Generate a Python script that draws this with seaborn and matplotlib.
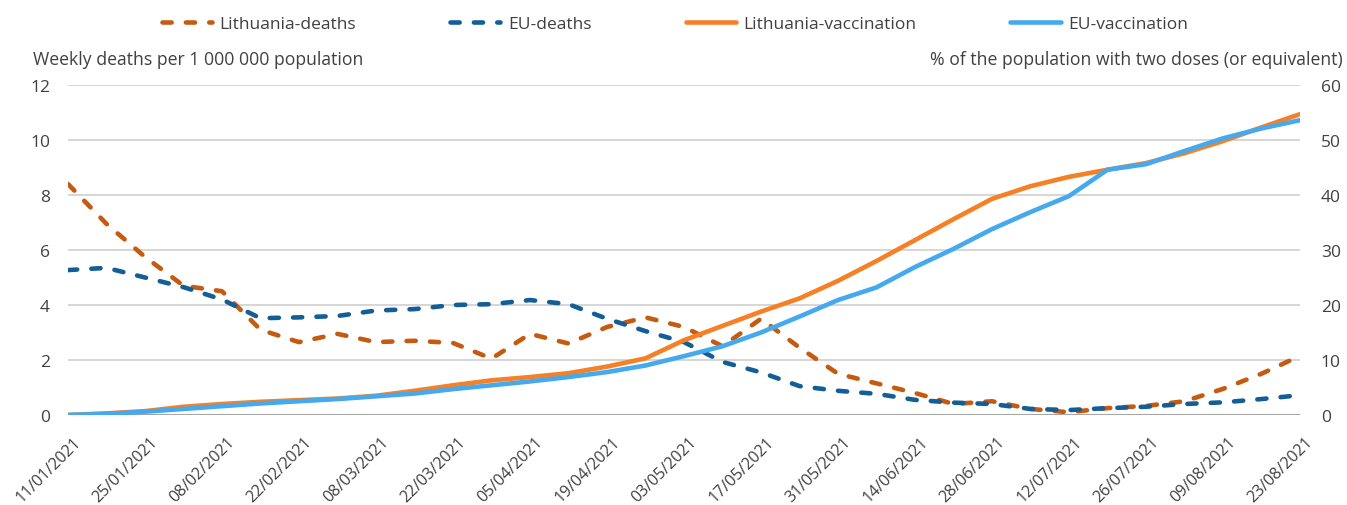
import matplotlib
matplotlib.use("Agg")
import matplotlib.pyplot as plt
import matplotlib.transforms as mtransforms
import matplotlib.dates as mdates
import numpy as np
import pandas as pd
import seaborn as sns

# -----------------------
# Data
# -----------------------
weeks = pd.date_range("2021-01-11", "2021-08-23", freq="7D")

lt_deaths = [8.4, 6.95, 5.75, 4.7, 4.5, 3.1, 2.65, 2.95, 2.65, 2.7, 2.62,
             2.05, 2.95, 2.6, 3.2, 3.55, 3.2, 2.5, 3.5, 2.45, 1.5, 1.15,
             0.8, 0.4, 0.5, 0.22, 0.1, 0.25, 0.33, 0.5, 0.95, 1.5, 2.15]
eu_deaths = [5.27, 5.35, 5.0, 4.65, 4.2, 3.52, 3.55, 3.6, 3.8, 3.85, 4.0,
             4.03, 4.18, 4.03, 3.5, 3.05, 2.65, 1.93, 1.55, 1.05, 0.88, 0.77,
             0.55, 0.45, 0.4, 0.22, 0.18, 0.25, 0.3, 0.4, 0.46, 0.58, 0.72]
lt_vacc = [0, 0.3, 0.7, 1.5, 2.0, 2.4, 2.7, 3.0, 3.5, 4.4, 5.4, 6.3, 6.9,
           7.6, 8.8, 10.3, 13.6, 16.2, 18.8, 21.2, 24.4, 28.0, 31.8, 35.6,
           39.3, 41.6, 43.3, 44.6, 45.8, 47.6, 49.8, 52.3, 54.7]
eu_vacc = [0, 0.2, 0.6, 1.1, 1.6, 2.1, 2.5, 2.9, 3.4, 3.9, 4.7, 5.4, 6.1,
           6.9, 7.8, 9.0, 10.7, 12.5, 15.0, 17.9, 20.9, 23.2, 26.9, 30.2,
           33.8, 36.9, 39.8, 44.6, 45.6, 48.0, 50.3, 52.1, 53.6]

labels = ["Lithuania-deaths", "EU-deaths", "Lithuania-vaccination", "EU-vaccination"]
colors = ["#C55A11", "#135E96", "#F58026", "#45A9EE"]

df = pd.DataFrame({"week": weeks, labels[0]: lt_deaths, labels[1]: eu_deaths,
                   labels[2]: lt_vacc, labels[3]: eu_vacc})

# -----------------------
# Style
# -----------------------
sns.set_style("white")
plt.rcParams["font.family"] = ["Open Sans", "DejaVu Sans"]
text_col = "#404040"

W, H = 1347, 506
fig = plt.figure(figsize=(W / 100, H / 100), dpi=100)
ax = fig.add_axes([68 / W, 1 - 416 / H, (1300 - 68) / W, 330 / H])
ax2 = ax.twinx()

# deaths on the left axis (dashed)
for name, col in zip(labels[:2], colors[:2]):
    sns.lineplot(data=df, x="week", y=name, ax=ax, color=col, lw=3.3, label=name)
for ln in ax.lines:
    ln.set_dashes((2.0, 3.1))
    ln.set_dash_capstyle("round")

# vaccination on the right axis (solid)
for name, col in zip(labels[2:], colors[2:]):
    sns.lineplot(data=df, x="week", y=name, ax=ax2, color=col, lw=3.3, label=name)

for a in (ax, ax2):
    if a.get_legend():
        a.get_legend().remove()
    a.set_xlabel("")
    a.set_ylabel("")
    for s in a.spines.values():
        s.set_visible(False)

ax.set_xlim(weeks[0], weeks[-1])
ax.set_ylim(0, 12)
ax.set_yticks(np.arange(0, 13, 2))
ax2.set_ylim(0, 60)
ax2.set_yticks(np.arange(0, 61, 10))

ax.grid(axis="y", color="#D0D0D0", lw=1.2)
ax.grid(axis="x", visible=False)
ax2.grid(False)
ax.axhline(0, color="#A6A6A6", lw=1.5, zorder=1)

ax.set_xticks(weeks[::2])
ax.xaxis.set_major_formatter(mdates.DateFormatter("%d/%m/%Y"))
ax.tick_params(axis="x", length=0, pad=13.5, labelsize=11.6, labelcolor=text_col)
ax.tick_params(axis="y", length=0, pad=13, labelsize=12.5, labelcolor=text_col)
ax2.tick_params(axis="y", length=0, pad=15, labelsize=12.5, labelcolor=text_col)
shift = mtransforms.ScaledTranslation(5 / 100, 0, fig.dpi_scale_trans)
for t in ax.get_xticklabels():
    t.set_rotation(45)
    t.set_ha("right")
    t.set_va("top")
    t.set_rotation_mode("anchor")
    t.set_transform(t.get_transform() + shift)

# axis titles above the plot
fig.text(33 / W, 1 - 60 / H, "Weekly deaths per 1 000 000 population",
         ha="left", va="center", fontsize=12.7, color=text_col)
fig.text(1343 / W, 1 - 60 / H, "% of the population with two doses (or equivalent)",
         ha="right", va="center", fontsize=12.7, color=text_col)

# legend across the top
h1, l1 = ax.get_legend_handles_labels()
h2, l2 = ax2.get_legend_handles_labels()
fig.legend(h1 + h2, l1 + l2, loc="center", bbox_to_anchor=(675 / W, 1 - 25 / H),
           ncol=4, frameon=False, fontsize=12.5, handlelength=2.9,
           handletextpad=0.45, columnspacing=5.4, labelcolor=text_col)

fig.savefig("out.png", dpi=100)
